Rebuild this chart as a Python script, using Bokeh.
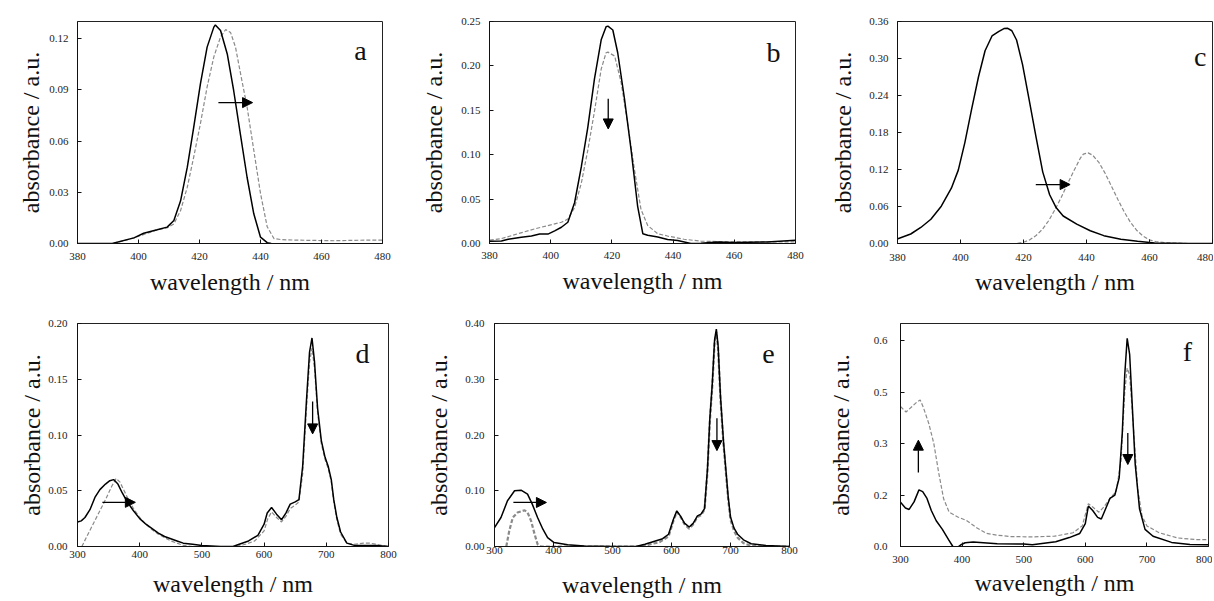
from bokeh.plotting import figure
from bokeh.layouts import column, row
from bokeh.models import Range1d, FixedTicker, Arrow, NormalHead, Label
from bokeh.embed import file_html
from bokeh.resources import INLINE

SERIF = "Liberation Serif"

# ---------------- data ----------------
# panel a (380-480 nm)
A_WL_SOLID = [380, 391.4, 398.5, 401.7, 406.1, 409.4, 411.6, 413.8, 416.0, 418.1, 420.3, 422.5, 424.7, 425.2,
              426.9, 429.1, 431.2, 433.4, 435.6, 437.8, 440.0, 442.2, 443.5]
A_ABS_SOLID = [0, 0, 0.0033, 0.006, 0.008, 0.0096, 0.0135, 0.025, 0.0447, 0.068, 0.0935, 0.115, 0.1267, 0.128,
               0.1247, 0.111, 0.0896, 0.064, 0.0388, 0.0174, 0.0037, 0.0005, 0]
A_WL_DASH = [391.7, 398.5, 406.1, 409.4, 411.6, 413.8, 416.0, 418.1, 420.3, 422.5, 424.7, 426.9, 428.6, 430.2,
             431.8, 433.4, 435.6, 437.8, 440.0, 442.2, 444.4, 446.6, 451, 464.1, 475, 480]
A_ABS_DASH = [0, 0.0033, 0.008, 0.0092, 0.0115, 0.0193, 0.033, 0.0506, 0.0702, 0.0917, 0.1093, 0.121, 0.1253,
              0.1235, 0.115, 0.1, 0.0800, 0.0546, 0.0293, 0.0098, 0.0029, 0.0023, 0.002, 0.0016, 0.002, 0.002]

# panel b (380-480 nm)
B_WL_SOLID = [380.1, 383.9, 386.1, 388.8, 390.4, 393.7, 396.4, 399.1, 401.3, 403.5, 405.6, 407.8, 410.0, 412.1,
              414.3, 416.5, 418.1, 418.7, 420.3, 421.9, 424.1, 426.3, 428.4, 430.1, 431.7, 435.0, 438.2, 441.5,
              445.8, 449.1, 454.5, 459.9, 470.8, 480]
B_ABS_SOLID = [0.0026, 0.0029, 0.0048, 0.0062, 0.0070, 0.0084, 0.0106, 0.0106, 0.0143, 0.0183, 0.0239, 0.0459,
               0.0862, 0.1303, 0.1854, 0.2294, 0.2441, 0.2448, 0.2404, 0.2148, 0.1633, 0.1046, 0.0422, 0.0110,
               0.0092, 0.0073, 0.0044, 0.0033, 0.0, 0.0004, 0.0018, 0.0011, 0.0018, 0.0037]
B_WL_DASH = [380.1, 383.9, 389.3, 394.8, 399.1, 403.5, 405.6, 407.8, 410.0, 412.1, 414.3, 416.5, 418.1, 418.7,
             420.9, 423.0, 425.2, 427.4, 429.5, 431.7, 435.0, 438.2, 443.6, 449.1, 459.9, 480]
B_ABS_DASH = [0.0037, 0.0055, 0.011, 0.0165, 0.0202, 0.0239, 0.0275, 0.0404, 0.0679, 0.1046, 0.1487, 0.1964,
              0.2148, 0.2155, 0.2111, 0.1817, 0.134, 0.0826, 0.0385, 0.0202, 0.011, 0.0084, 0.0048, 0.0026,
              0.0018, 0.0018]

# panel c (380-480 nm)
C_WL_SOLID = [379.9, 384.2, 387.4, 390.6, 393.9, 397.1, 399.3, 401.4, 403.5, 405.7, 407.8, 410.0, 412.2, 413.8,
              415.0, 416.3, 417.8, 419.7, 421.8, 424.0, 426.1, 428.3, 430.4, 432.6, 436.9, 441.2, 445.5, 450.9,
              456.2, 461.6, 467.0, 472.4, 479.9]
C_ABS_SOLID = [0.0074, 0.0154, 0.026, 0.0393, 0.0605, 0.0897, 0.119, 0.164, 0.217, 0.270, 0.3126, 0.3365, 0.344,
               0.3485, 0.349, 0.345, 0.330, 0.2900, 0.2330, 0.1720, 0.1162, 0.0791, 0.0578, 0.0446, 0.0313,
               0.0207, 0.0127, 0.0069, 0.0037, 0.001, 0.0005, 0.0, 0.0]
C_WL_DASH = [380, 392, 402, 413, 417.5, 420, 422, 424, 426, 428, 430, 432, 434, 436, 438, 439, 440.5, 442, 444,
             446, 448, 450, 452, 454, 456, 458, 460, 462, 466, 472, 480]
C_ABS_DASH = [0, -0.001, -0.0015, -0.002, 0, 0.002, 0.006, 0.013, 0.023, 0.037, 0.055, 0.075, 0.097, 0.118,
              0.138, 0.145, 0.147, 0.143, 0.131, 0.113, 0.092, 0.071, 0.051, 0.034, 0.021, 0.012, 0.006, 0.003,
              0.001, 0, 0]

# panel d (300-800 nm)
D_WL_SOLID = [300, 306, 312, 320, 328, 336, 345, 352, 358, 365, 372, 380, 390, 400, 410, 420, 430, 440, 450, 460,
              470, 485, 500, 530, 550, 560, 575, 590, 600, 605, 612, 620, 628, 635, 642, 650, 656, 662, 668, 673,
              677, 681, 686, 692, 698, 703, 708, 712, 717, 723, 733, 745, 760, 780, 800]
D_ABS_SOLID = [0.022, 0.023, 0.026, 0.033, 0.044, 0.051, 0.056, 0.059, 0.060, 0.056, 0.048, 0.040, 0.032, 0.025,
               0.020, 0.016, 0.012, 0.009, 0.007, 0.005, 0.003, 0.002, 0.001, 0.0, 0.0, 0.002, 0.005, 0.010,
               0.020, 0.030, 0.035, 0.029, 0.024, 0.030, 0.038, 0.040, 0.042, 0.072, 0.130, 0.174, 0.187, 0.166,
               0.124, 0.095, 0.080, 0.072, 0.060, 0.042, 0.026, 0.013, 0.003, 0.001, 0.001, 0.001, 0.0]
D_WL_DASH = [307, 315, 325, 335, 345, 355, 362, 368, 375, 382, 390, 400, 410, 420, 430, 440, 450, 460, 470, 485,
             500, 520, 540, 555, 570, 585, 600, 606, 612, 620, 628, 635, 642, 650, 656, 662, 668, 673, 677, 681,
             686, 692, 698, 703, 708, 712, 717, 723, 733, 745, 760, 770, 780, 800]
D_ABS_DASH = [0, 0.009, 0.020, 0.031, 0.042, 0.054, 0.061, 0.058, 0.050, 0.042, 0.034, 0.026, 0.020, 0.015,
              0.011, 0.008, 0.005, 0.003, 0.001, 0.0, -0.001, -0.001, -0.001, 0.0, 0.002, 0.005, 0.014, 0.025,
              0.031, 0.026, 0.022, 0.027, 0.034, 0.037, 0.040, 0.065, 0.122, 0.165, 0.178, 0.160, 0.120, 0.092,
              0.078, 0.070, 0.058, 0.040, 0.024, 0.011, 0.003, 0.002, 0.003, 0.003, 0.002, 0.0]

# panel e (300-800 nm)
E_WL_SOLID = [300, 311, 322, 334, 345, 356, 364, 373, 382, 390, 401, 424, 452, 500, 540, 555, 570, 585, 595, 603,
              609, 615, 622, 630, 637, 644, 650, 656, 661, 665, 669, 673, 676, 679, 683, 688, 692, 696, 700, 706,
              712, 722, 735, 760, 800]
E_ABS_SOLID = [0.034, 0.052, 0.082, 0.100, 0.101, 0.094, 0.076, 0.052, 0.031, 0.016, 0.007, 0.003, 0.001, 0.0,
               0.0, 0.004, 0.009, 0.014, 0.022, 0.048, 0.064, 0.055, 0.042, 0.035, 0.042, 0.055, 0.058, 0.068,
               0.140, 0.230, 0.290, 0.370, 0.390, 0.360, 0.270, 0.190, 0.140, 0.090, 0.053, 0.033, 0.022, 0.012,
               0.005, 0.002, 0.0]
E_WL_DASH = [320, 325, 331, 339, 351, 356, 362, 368, 373, 379, 420, 500, 540, 560, 580, 595, 603, 609, 615, 622,
             630, 637, 644, 650, 656, 661, 665, 669, 673, 676, 679, 683, 688, 692, 696, 700, 706, 712, 722, 735,
             760, 800]
E_ABS_DASH = [0, 0.028, 0.052, 0.061, 0.065, 0.061, 0.046, 0.022, 0.004, 0.0, 0.0, 0.0, 0.0, 0.003, 0.008, 0.018,
              0.045, 0.062, 0.054, 0.040, 0.032, 0.040, 0.053, 0.056, 0.066, 0.135, 0.225, 0.285, 0.365, 0.385,
              0.355, 0.265, 0.185, 0.135, 0.085, 0.048, 0.028, 0.016, 0.006, 0.001, 0.0, 0.0]

# panel f (300-800 nm)
F_WL_SOLID = [300, 308, 314, 322, 330, 336, 343, 350, 358, 368, 378, 385, 392, 398, 405, 418, 457, 500, 514, 552,
              574, 591, 600, 605, 612, 620, 626, 633, 640, 648, 655, 660, 664, 668, 672, 676, 681, 688, 697, 710,
              740, 770, 800]
F_ABS_SOLID = [0.129, 0.112, 0.108, 0.130, 0.165, 0.160, 0.140, 0.105, 0.075, 0.050, 0.020, 0.0, -0.003, 0.005,
               0.011, 0.013, 0.008, 0.007, 0.005, 0.014, 0.026, 0.038, 0.067, 0.118, 0.105, 0.085, 0.080, 0.110,
               0.140, 0.150, 0.200, 0.330, 0.500, 0.607, 0.560, 0.420, 0.240, 0.110, 0.050, 0.030, 0.012, 0.006,
               0.005]
F_WL_DASH = [300, 309, 326, 332, 337, 346, 354, 362, 370, 379, 393, 407, 425, 440, 457, 479, 514, 550, 580, 595,
             605, 612, 622, 630, 640, 650, 658, 664, 668, 672, 678, 685, 692, 700, 720, 750, 780, 800]
F_ABS_DASH = [0.408, 0.392, 0.420, 0.427, 0.406, 0.358, 0.301, 0.215, 0.139, 0.100, 0.086, 0.076, 0.053, 0.038,
              0.033, 0.029, 0.028, 0.030, 0.040, 0.060, 0.125, 0.115, 0.100, 0.115, 0.140, 0.160, 0.250, 0.450,
              0.520, 0.500, 0.350, 0.170, 0.090, 0.060, 0.040, 0.025, 0.020, 0.020]

# axis ticks / labels
X_TICKS_SORET = [380, 400, 420, 440, 460, 480]
X_TICKS_WIDE = [300, 400, 500, 600, 700, 800]
A_Y_TICKS = [0.0, 0.03, 0.06, 0.09, 0.12]
A_Y_LABELS = ["0.00", "0.03", "0.06", "0.09", "0.12"]
B_Y_TICKS = [0.0, 0.05, 0.1, 0.15, 0.2, 0.25]
B_Y_LABELS = ["0.00", "0.05", "0.10", "0.15", "0.20", "0.25"]
C_Y_TICKS = [0.0, 0.06, 0.12, 0.18, 0.24, 0.3, 0.36]
C_Y_LABELS = ["0.00", "0.06", "0.12", "0.18", "0.24", "0.30", "0.36"]
D_Y_TICKS = [0.0, 0.05, 0.1, 0.15, 0.2]
D_Y_LABELS = ["0.00", "0.05", "0.10", "0.15", "0.20"]
E_Y_TICKS = [0.0, 0.1, 0.2, 0.3, 0.4]
E_Y_LABELS = ["0.00", "0.10", "0.20", "0.30", "0.40"]
F_Y_TICKS = [0.0, 0.15, 0.3, 0.45, 0.6]
F_Y_LABELS = ["0.0", "0.2", "0.3", "0.5", "0.6"]

X_LABEL = "wavelength / nm"
Y_LABEL = "absorbance / a.u."


def make_panel(xr, yr, xt, yt, yl, w, h, bl, bt, br, bb, xs=(8, 6), ys=(9, 2)):
    p = figure(width=w, height=h, x_range=Range1d(*xr), y_range=Range1d(*yr),
               output_backend="svg", toolbar_location=None,
               min_border_left=bl, min_border_top=bt, min_border_right=br, min_border_bottom=bb)
    p.xgrid.visible = False
    p.ygrid.visible = False
    p.outline_line_color = "#222222"
    p.outline_line_width = 1
    p.xaxis.ticker = FixedTicker(ticks=xt)
    p.yaxis.ticker = FixedTicker(ticks=yt)
    p.yaxis.major_label_overrides = {t: l for t, l in zip(yt, yl)}
    for ax in (p.xaxis[0], p.yaxis[0]):
        ax.axis_line_color = "#111111"
        ax.axis_line_width = 1
        ax.major_tick_in = 4
        ax.major_tick_out = 0
        ax.major_tick_line_color = "#111111"
        ax.minor_tick_line_color = None
        ax.major_label_text_font = SERIF
        ax.major_label_text_font_size = "11px"
        ax.major_label_text_color = "#222222"
        ax.axis_label_text_font = SERIF
        ax.axis_label_text_font_size = "24px"
        ax.axis_label_text_font_style = "normal"
        ax.axis_label_text_color = "#111111"
    p.xaxis.axis_label = X_LABEL
    p.yaxis.axis_label = Y_LABEL
    p.xaxis.major_label_standoff = xs[0]
    p.xaxis.axis_label_standoff = xs[1]
    p.yaxis.major_label_standoff = ys[0]
    p.yaxis.axis_label_standoff = ys[1]
    return p


def curves(p, xs, ys, xd, yd, dash_w=1.2):
    p.line(xd, yd, line_color="#8a8a8a", line_width=dash_w, line_dash="4 2")
    p.line(xs, ys, line_color="#000000", line_width=1.5)


def arrow(p, x0, y0, x1, y1):
    p.add_layout(Arrow(x_start=x0, y_start=y0, x_end=x1, y_end=y1, line_width=1.3, line_color="black",
                       end=NormalHead(size=10, fill_color="black", line_color="black")))


def letter(p, x, y, t):
    p.add_layout(Label(x=x, y=y, text=t, text_font=SERIF, text_font_size="28px", text_align="center",
                       text_baseline="middle", text_color="#111111"))


# row 1
pa = make_panel((380, 480), (0, 0.13), X_TICKS_SORET, A_Y_TICKS, A_Y_LABELS, 418, 300, 77, 21, 36, 57,
                xs=(9, 6), ys=(9, 2))
curves(pa, A_WL_SOLID, A_ABS_SOLID, A_WL_DASH, A_ABS_DASH)
arrow(pa, 426.2, 0.0825, 437.4, 0.0825)
letter(pa, 472.8, 0.113, "a")

pb = make_panel((380, 480), (0, 0.25), X_TICKS_SORET, B_Y_TICKS, B_Y_LABELS, 409, 300, 70, 18, 32, 55,
                xs=(8, 6), ys=(9, 11))
curves(pb, B_WL_SOLID, B_ABS_SOLID, B_WL_DASH, B_ABS_DASH)
arrow(pb, 418.8, 0.163, 418.8, 0.129)
letter(pb, 472.8, 0.215, "b")

pc = make_panel((380, 480), (0, 0.36), X_TICKS_SORET, C_Y_TICKS, C_Y_LABELS, 386, 300, 70, 17, 1, 57,
                xs=(10, 5), ys=(9, 10))
curves(pc, C_WL_SOLID, C_ABS_SOLID, C_WL_DASH, C_ABS_DASH)
arrow(pc, 423.9, 0.0956, 434.8, 0.0956)
letter(pc, 476.1, 0.3025, "c")

# row 2
pd = make_panel((300, 800), (0, 0.20), X_TICKS_WIDE, D_Y_TICKS, D_Y_LABELS, 423, 301, 77, 21, 35, 53,
                xs=(4, 10), ys=(10, 0))
curves(pd, D_WL_SOLID, D_ABS_SOLID, D_WL_DASH, D_ABS_DASH)
arrow(pd, 340, 0.0396, 393, 0.0396)
arrow(pd, 678, 0.130, 678, 0.101)
letter(pd, 758, 0.173, "d")

pe = make_panel((300, 800), (0, 0.40), X_TICKS_WIDE, E_Y_TICKS, E_Y_LABELS, 401, 301, 70, 23, 35, 55,
                xs=(0, 15), ys=(10, 10))
curves(pe, E_WL_SOLID, E_ABS_SOLID, E_WL_DASH, E_ABS_DASH, dash_w=2.2)
arrow(pe, 332, 0.079, 388, 0.079)
arrow(pe, 677, 0.23, 677, 0.172)
letter(pe, 764.5, 0.346, "e")

pf = make_panel((300, 800), (0, 0.65), X_TICKS_WIDE, F_Y_TICKS, F_Y_LABELS, 388, 301, 74, 22, 4, 53,
                xs=(9, 4), ys=(13, 17))
curves(pf, F_WL_SOLID, F_ABS_SOLID, F_WL_DASH, F_ABS_DASH)
arrow(pf, 329, 0.216, 329, 0.31)
arrow(pf, 669, 0.331, 669, 0.239)
letter(pf, 765.7, 0.569, "f")

layout = column(row(pa, pb, pc), row(pd, pe, pf))
open("out.html", "w").write(file_html(layout, INLINE))
